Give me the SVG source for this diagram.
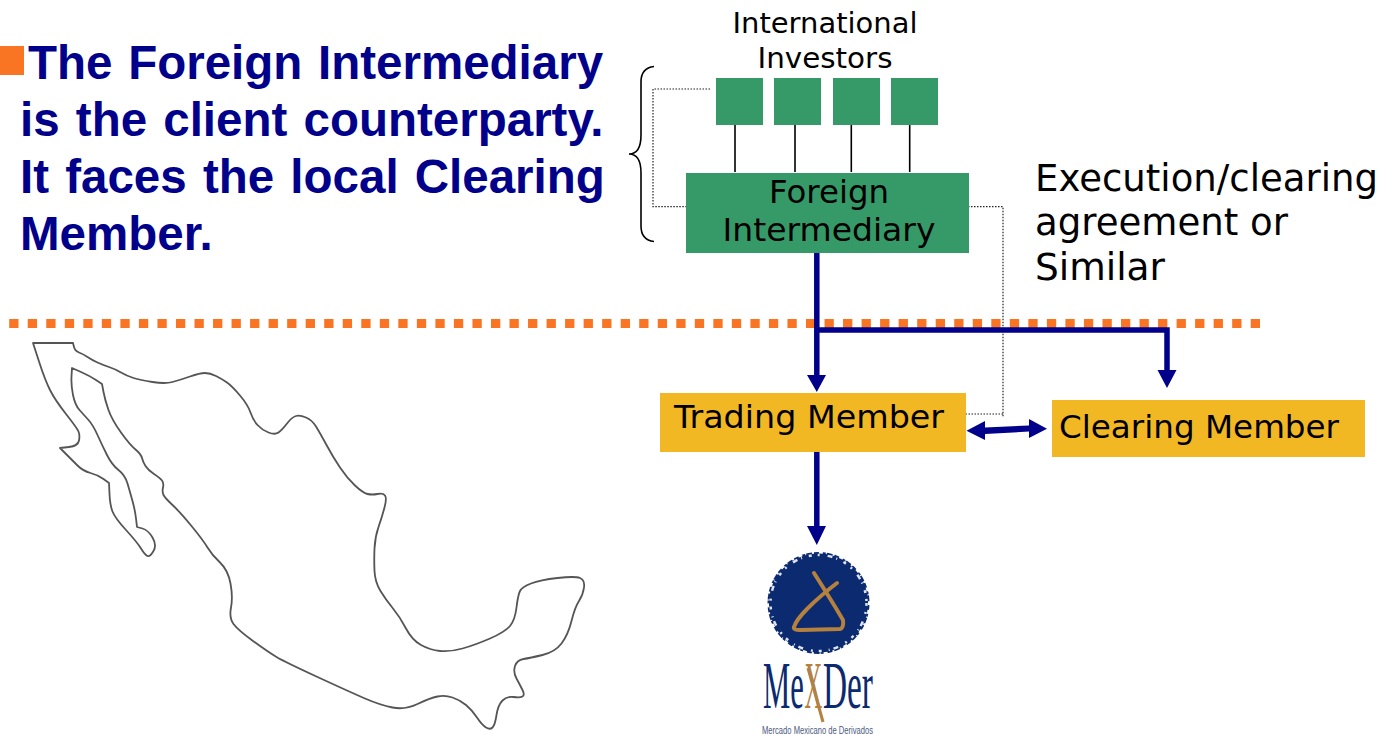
<svg xmlns="http://www.w3.org/2000/svg" width="1385" height="735" viewBox="0 0 1385 735">
<defs>
<style>
.head{font-family:"Liberation Sans",Arial,sans-serif;font-weight:700;font-size:47.5px;fill:#00008B}
.lbl{font-family:"DejaVu Sans",Verdana,sans-serif;fill:#000}
.conn{fill:none;stroke:#00008B;stroke-width:5.5}
.dot{fill:none;stroke:#222;stroke-width:1.2;stroke-dasharray:1.5 1.5}
.thin{fill:none;stroke:#000;stroke-width:1.6}
.gr{fill:#359A68}.ye{fill:#F2B824}.nav{fill:#00008B}
.logo{font-family:"Liberation Serif",serif;font-size:68px;fill:#0B2A6F}
</style>
</defs>
<rect width="1385" height="735" fill="#fff"/>
<g id="heading">
<rect x="0" y="46" width="24" height="29" fill="#F97524"/>
<text class="head" x="28" y="79" style="word-spacing:2.5px">The Foreign Intermediary</text>
<text class="head" x="20" y="136" style="word-spacing:3px">is the client counterparty.</text>
<text class="head" x="20" y="193" style="word-spacing:3px">It faces the local Clearing</text>
<text class="head" x="20" y="250">Member.</text>
</g>
<g id="divider"><path d="M9.2 323.5H1260" fill="none" stroke="#F97524" stroke-width="9" stroke-dasharray="9.3 9.23"/></g>
<g id="mexico-map">
<path fill="none" stroke="#555" stroke-width="1.8" stroke-linejoin="round" d="M33 343L73 343L74 347Q75 351 79 352.5Q83 354 87.5 357Q92 360 97.5 362.5Q103 365 109 367Q115 369 121 372.5Q127 376 133.5 378Q140 380 152.5 382Q165 384 172.5 382Q180 380 190 376.5Q200 373 205 373Q210 373 216 376Q222 379 227 382.5Q232 386 240 395.5Q248 405 250.5 412.5Q253 420 257.5 425Q262 430 268.5 432.5Q275 435 278.5 432.5Q282 430 287 423.5Q292 417 296 416Q300 415 306 417.5Q312 420 316 426.5Q320 433 326.5 445Q333 457 340 467.5Q347 478 355 485.5Q363 493 367.5 494Q372 495 377.5 494Q383 493 385 495.5Q387 498 384.5 507.5Q382 517 378.5 527Q375 537 374.5 548.5Q374 560 374.5 571Q375 582 380.5 591Q386 600 393 608.5Q400 617 406 628.5Q412 640 421 645Q430 650 440 651Q450 652 462.5 648.5Q475 645 490 638.5Q505 632 510 626Q515 620 516.5 607.5Q518 595 520 591Q522 587 531 583.5Q540 580 557.5 578Q575 576 580 578Q585 580 584 587.5Q583 595 579 601Q575 607 571.5 621Q568 635 561.5 643.5Q555 652 542.5 655Q530 658 523.5 659Q517 660 515 666Q513 672 516.5 678.5Q520 685 522.5 690Q525 695 522.5 696.5Q520 698 513.5 697Q507 696 502.5 700.5Q498 705 496.5 715Q495 725 492.5 727.5Q490 730 486 727.5Q482 725 477 717.5Q472 710 466 705Q460 700 452.5 697.5Q445 695 437.5 696.5Q430 698 417.5 704Q405 710 392.5 707.5Q380 705 365 698.5Q350 692 317.5 677Q285 662 276.5 657Q268 652 253 641Q238 630 233.5 624Q229 618 231 607.5Q233 597 230.5 583.5Q228 570 220 562.5Q212 555 207.5 547.5Q203 540 191.5 526Q180 512 172.5 505Q165 498 163.5 495Q162 492 163 487.5Q164 483 162 480.5Q160 478 154 474Q148 470 145.5 466Q143 462 142 458Q141 454 135.5 449.5Q130 445 121 432.5Q112 420 108.5 410Q105 400 103.5 392L102 384L96 380Q90 376 81 372L72 368L71.5 376.5Q71 385 73 395Q75 405 79.5 410Q84 415 88.5 420Q93 425 97.5 435Q102 445 107 455Q112 465 118.5 470Q125 475 127.5 483.5Q130 492 132.5 501Q135 510 136 518.5L137 527L142.5 528.5Q148 530 152.5 537.5Q157 545 153.5 551Q150 557 147.5 556Q145 555 141 548.5Q137 542 126 530Q115 518 112.5 511.5Q110 505 109.5 494L109 483L103.5 479Q98 475 90.5 473Q83 471 77.5 465.5L60 448L69 447Q78 446 79 440.5Q80 435 78.5 431.5Q77 428 66 414Q55 400 50 390Q45 380 39 361.5Z"/>
</g>
<g id="connectors">
<path class="dot" d="M710 89H653V206.7H688"/>
<path class="dot" d="M968 206.7H1003V417M1003 414H966"/>
<path class="thin" d="M735 125V172M795 125V172M851.3 125V172M909.7 125V172"/>
<path class="thin" d="M654 66.5Q641 68 641 82V135Q641 154 629 154Q641 154 641 173V226Q641 240 654 241.5"/>
<path class="conn" d="M816.8 253V378M816.8 330H1167V372M816.8 452V528"/>
<path class="nav" d="M807 375H826L816.8 392ZM1157.5 370H1176.5L1167 388ZM807 526H826L816.8 545Z"/>
<path class="nav" d="M966.5 430.7L985 421V427.5L1029 425.5V419L1047 428.7L1029 438V431.5L985 434V440Z"/>
</g>
<g id="investors-label">
<text class="lbl" font-size="28" text-anchor="middle" x="825" y="33" textLength="185" lengthAdjust="spacingAndGlyphs">International</text>
<text class="lbl" font-size="28" text-anchor="middle" x="825" y="68" textLength="135" lengthAdjust="spacingAndGlyphs">Investors</text>
</g>
<g id="investor-1"><rect class="gr" x="716" y="78" width="47" height="47"/></g>
<g id="investor-2"><rect class="gr" x="774" y="78" width="47" height="47"/></g>
<g id="investor-3"><rect class="gr" x="833" y="78" width="47" height="47"/></g>
<g id="investor-4"><rect class="gr" x="891" y="78" width="47" height="47"/></g>
<g id="foreign-intermediary">
<rect class="gr" x="686" y="173" width="283" height="80"/>
<text class="lbl" font-size="32" text-anchor="middle" x="829" y="203" textLength="120" lengthAdjust="spacingAndGlyphs">Foreign</text>
<text class="lbl" font-size="32" text-anchor="middle" x="829" y="241" textLength="213" lengthAdjust="spacingAndGlyphs">Intermediary</text>
</g>
<g id="agreement-label">
<text class="lbl" font-size="37" x="1035" y="191" textLength="343" lengthAdjust="spacingAndGlyphs">Execution/clearing</text>
<text class="lbl" font-size="37" x="1035" y="235" textLength="253" lengthAdjust="spacingAndGlyphs">agreement or</text>
<text class="lbl" font-size="37" x="1035" y="280" textLength="130" lengthAdjust="spacingAndGlyphs">Similar</text>
</g>
<g id="trading-member">
<rect class="ye" x="660" y="393" width="306" height="59"/>
<text class="lbl" font-size="32" x="674" y="428" textLength="270" lengthAdjust="spacingAndGlyphs">Trading Member</text>
</g>
<g id="clearing-member">
<rect class="ye" x="1052" y="400" width="313" height="57"/>
<text class="lbl" font-size="32" x="1059" y="438" textLength="280" lengthAdjust="spacingAndGlyphs">Clearing Member</text>
</g>
<g id="mexder-logo">
<circle cx="818.5" cy="603" r="51" fill="#0B2A6F"/>
<circle cx="818.5" cy="603" r="48" fill="none" stroke="#DDE3F0" stroke-width="2.5" stroke-dasharray="3 6 2 8 5 4 1 7"/>
<circle cx="818.5" cy="603" r="50.5" fill="none" stroke="#fff" stroke-width="2" stroke-dasharray="2 5 4 3 1 6"/>
<path d="M814 573Q830 598 843 620M837 583Q820 596 808 608Q796 620 794 627Q793 630 800 630L840 629Q844 628 843 620" fill="none" stroke="#B5813F" stroke-width="4" stroke-linecap="round" stroke-linejoin="round"/>
<text class="logo" transform="translate(763 708) scale(.45 1)">Me</text>
<text class="logo" transform="translate(804.5 708) scale(.36 1)" style="fill:#B5813F">X</text>
<text class="logo" transform="translate(823 708) scale(.49 1)">Der</text>
<path d="M808 668L823 722" stroke="#B5813F" stroke-width="3" fill="none"/>
<text x="762" y="734" font-family="'Liberation Sans',sans-serif" font-size="10" fill="#4A5A80" textLength="111" lengthAdjust="spacingAndGlyphs">Mercado Mexicano de Derivados</text>
</g>
</svg>
